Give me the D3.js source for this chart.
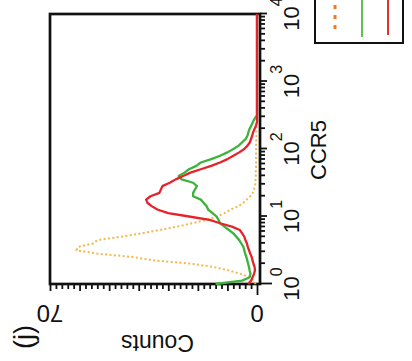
<!DOCTYPE html>
<html><head><meta charset="utf-8">
<script src="https://cdn.jsdelivr.net/npm/d3@7"></script>
<style>
body{margin:0;background:#fff}
svg{display:block}
text{font-family:"Liberation Sans",Arial,sans-serif;fill:#111}
</style>
</head><body>
<svg id="c" width="412" height="361"></svg>
<script>
// CCR5 channel positions (log10 of intensity)
const binLog = [0.00,0.05,0.10,0.15,0.20,0.25,0.30,0.35,0.40,0.45,
  0.50,0.55,0.60,0.65,0.70,0.75,0.80,0.85,0.90,0.95,
  1.00,1.05,1.10,1.15,1.20,1.25,1.30,1.35,1.40,1.45,
  1.50,1.55,1.60,1.65,1.70,1.75,1.80,1.85,1.90,1.95,
  2.00,2.05,2.10,2.15,2.20,2.25,2.30,2.35,2.40,2.45,
  2.50,3.00,3.50,4.00];
// isotype control (orange dotted)
const isotypeCounts = [0.5,1,2.5,5.5,9.5,14.5,22,35,42,54,
  61,60.5,55.5,54,46,39,33,27,22,17,
  13.5,11,9,6.5,4.7,3.5,2.3,1.4,1,0.7,
  0.5,0.5,0.4,0.4,0.4,0.3,0.3,0.3,0.3,0.3,
  0.3,0.3,0.3,0.2,0.2,0.2,0.2,0.1,0,0,
  0,0,0,0];
// green histogram
const greenCounts = [14,5,2.5,2.2,2.5,2.7,3,3.3,3.6,4,
  4.3,4.6,5.3,6,7,8,9.5,11,12.5,13,
  13.7,15,16.5,17,18,19,21.6,21.6,21,20.3,
  21.6,25.5,26.5,24.5,23,20.5,19,15.5,12.5,10,
  8,6.2,5,3.8,3.2,2.9,2.5,1.9,1.4,0.8,
  0,0,0,0];
// red histogram
const redCounts = [3,2,1.5,1,0.7,0.8,1.2,1.5,1.8,2.3,
  2.7,3.1,3.4,3.9,4.3,5,5.8,8.5,12.5,16,
  23,30,33.5,35.5,37,37.5,36,33,32.5,32,
  29.5,27.5,25,22.5,19,15.5,12.5,10,8,6,
  4.3,3.2,2.4,2,1.6,1.3,0.8,0.3,0,0,
  0,0,0,0];
const ccr5Majors = [1,10,100,1000,10000];
const ccr5Exponents = ["0","1","2","3","4"];
const countLabels = [0,70];
const countMajors = [10,20,30,40,50,60,70];
const countMinors = [2,4,6,8,12,14,16,18,22,24,26,28,32,34,36,38,42,44,46,48,52,54,56,58,62,64,66,68];
const legendColors = ["#f07a2a","#5ec24e","#e63030"];

const svg = d3.select("#c");
const ROT = 300;               // rotation origin (screen y)
const x = d3.scaleLog().domain([1,1e4]).range([16,286]);   // CCR5 (original horizontal)
const y = d3.scaleLinear().domain([0,70]).range([257,50]); // counts (original vertical)

const g = svg.append("g").attr("transform",`translate(0,${ROT}) rotate(-90)`);

// frame
g.append("rect").attr("x",x.range()[0]).attr("y",50).attr("width",x.range()[1]-x.range()[0]).attr("height",210)
  .attr("fill","#fff").attr("stroke","#111").attr("stroke-width",2.7);

// CCR5 axis (original bottom)
const minorVals = [];
for (let k=0;k<4;k++) for (let m=2;m<=9;m++) minorVals.push(m*Math.pow(10,k));
const axB1 = g.append("g").attr("transform","translate(0,260)")
  .call(d3.axisBottom(x).tickValues(minorVals).tickSize(5).tickFormat(""));
const axB2 = g.append("g").attr("transform","translate(0,260)")
  .call(d3.axisBottom(x).tickValues(ccr5Majors.slice(1)).tickSize(7).tickFormat(""));
const axB3 = g.append("g").attr("transform","translate(0,260)")
  .call(d3.axisBottom(x).tickValues([ccr5Majors[0]]).tickSize(12).tickFormat(""));
// counts axis (original left)
const axL1 = g.append("g").attr("transform",`translate(${x.range()[0]},0)`)
  .call(d3.axisLeft(y).tickValues(countMinors).tickSize(5).tickFormat(""));
const axL2 = g.append("g").attr("transform",`translate(${x.range()[0]},0)`)
  .call(d3.axisLeft(y).tickValues(countMajors).tickSize(7).tickFormat(""));
const axL3 = g.append("g").attr("transform",`translate(${x.range()[0]},0)`)
  .call(d3.axisLeft(y).tickValues([countLabels[0]]).tickSize(11).tickFormat(""));
[axB1,axB2,axB3,axL1,axL2,axL3].forEach(a=>{
  a.select(".domain").remove();
  a.selectAll(".tick line").attr("stroke","#111").attr("stroke-width",1.8);
});

const line = d3.line().x((d,i)=>x(Math.pow(10,binLog[i]))).y(d=>y(d));
g.append("path").datum(isotypeCounts).attr("d",line).attr("fill","none")
  .attr("stroke","#f2b84a").attr("stroke-width",2).attr("stroke-dasharray","2,2.4");
g.append("path").datum(greenCounts).attr("d",line).attr("fill","none")
  .attr("stroke","#3cb43a").attr("stroke-width",2.3).attr("stroke-linejoin","round");
g.append("path").datum(redCounts).attr("d",line).attr("fill","none")
  .attr("stroke","#e8222a").attr("stroke-width",2.3).attr("stroke-linejoin","round");

// CCR5 tick labels (screen coords)
ccr5Majors.forEach((v,i)=>{
  const Y = ROT - x(v), X = 299;
  const t = svg.append("text").attr("x",X).attr("y",Y).attr("text-anchor","middle")
    .attr("font-size",22).attr("transform",`rotate(-90,${X},${Y})`);
  t.append("tspan").text("10");
  t.append("tspan").attr("font-size",16).attr("dy",-17).text(ccr5Exponents[i]);
});
// count tick labels
countLabels.forEach(c=>{
  const X = y(c), Y = 305;
  svg.append("text").attr("x",X).attr("y",Y).attr("text-anchor","middle").attr("font-size",24)
    .attr("transform",`rotate(180,${X},${Y})`).text(c);
});
// axis titles
{
  const X = (y.range()[0]+y.range()[1])/2 + 4, Y = 335;
  svg.append("text").attr("x",X).attr("y",Y).attr("text-anchor","middle").attr("font-size",23)
    .attr("transform",`rotate(180,${X},${Y})`).text("Counts");
}
{
  const X = 326, Y = ROT - (x.range()[0]+x.range()[1])/2 + 1;
  svg.append("text").attr("x",X).attr("y",Y).attr("text-anchor","middle").attr("font-size",22)
    .attr("transform",`rotate(-90,${X},${Y})`).text("CCR5");
}
{
  const X = 33, Y = 337;
  svg.append("text").attr("x",X).attr("y",Y).attr("text-anchor","middle").attr("font-size",27)
    .attr("transform",`rotate(-90,${X},${Y})`).text("(j)");
}
// legend (partially off the top edge)
svg.append("rect").attr("x",315).attr("y",-10).attr("width",88).attr("height",53)
  .attr("fill","#fff").attr("stroke","#111").attr("stroke-width",2);
const legX = [335,362,388], legEnd = [33,37,35];
legendColors.forEach((c,i)=>{
  svg.append("line").attr("x1",legX[i]).attr("x2",legX[i]).attr("y1",-5).attr("y2",legEnd[i])
    .attr("stroke",c).attr("stroke-width",i===0?3:2)
    .attr("stroke-dasharray",i===0?"4,6":null);
});
</script>
</body></html>
